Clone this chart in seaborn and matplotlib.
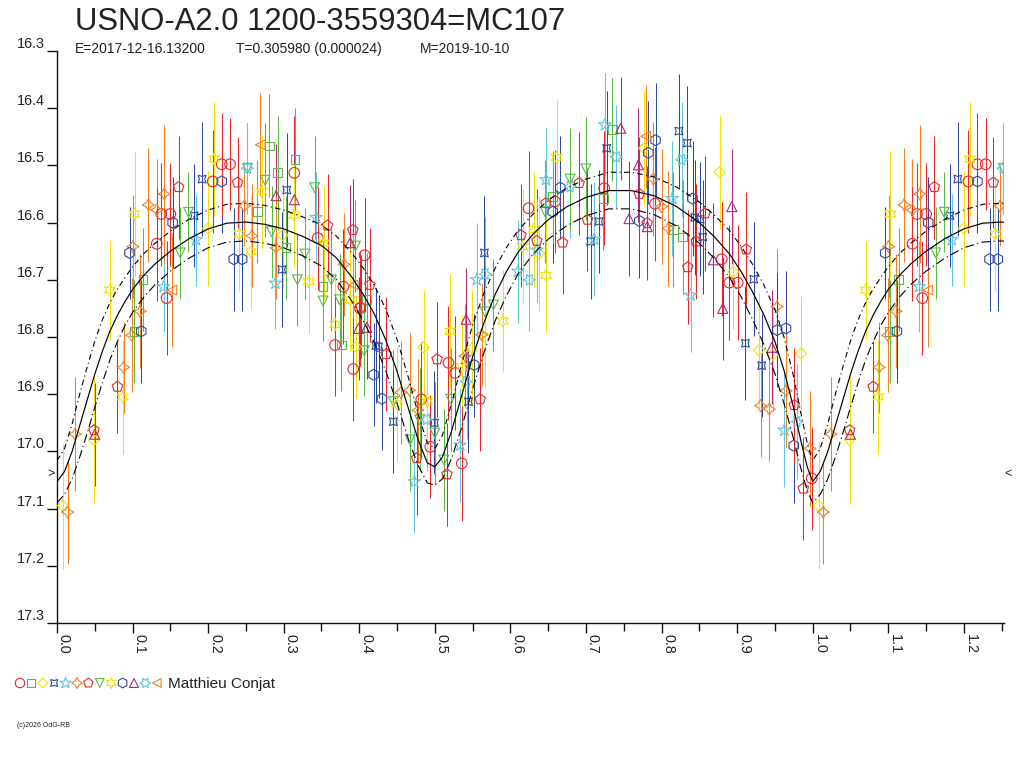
import numpy as np
import pandas as pd
import matplotlib
matplotlib.use("Agg")
import matplotlib.pyplot as plt
import seaborn as sns

# ---------------- text ----------------
TITLE = "USNO-A2.0 1200-3559304=MC107"
SUB_E = "E=2017-12-16.13200"
SUB_T = "T=0.305980 (0.000024)"
SUB_M = "M=2019-10-10"
OBSERVER = "Matthieu Conjat"
COPYRIGHT = "(c)2026 OdG-RB"

# ---------------- sessions (legend order) ----------------
session_colors = ["#e8262b", "#5bb946", "#f2e200", "#2f4b9f", "#5fc6dd", "#f28123",
                  "#e8262b", "#5bb946", "#f2e200", "#2f4b9f", "#b0287c", "#5fc6dd", "#f28123"]
session_markers = ["o", "s", "D", (4, 1, 45), "*", (4, 1, 0), "p", "v", (6, 1, 0), "h", "^", (6, 1, 30), "<"]
session_sizes = [58, 40, 32, 62, 88, 78, 62, 50, 78, 62, 52, 78, 48]

# ---------------- observations ----------------
phase = [0.008, 0.014, 0.024, 0.049, 0.050, 0.049, 0.070, 0.080, 0.087, 0.088,
         0.096, 0.099, 0.1005, 0.1027, 0.102, 0.110, 0.1115, 0.1137, 0.121, 0.132,
         0.132, 0.138, 0.141, 0.142, 0.145, 0.150, 0.152, 0.153, 0.161, 0.163,
         0.174, 0.1816, 0.184, 0.192, 0.200, 0.206, 0.208, 0.218, 0.218, 0.229,
         0.234, 0.239, 0.2415, 0.245, 0.248, 0.252, 0.252, 0.2566, 0.258, 0.265,
         0.269, 0.271, 0.2755, 0.281, 0.284, 0.290, 0.290, 0.289, 0.292, 0.2976,
         0.2985, 0.303, 0.304, 0.314, 0.315, 0.314, 0.314, 0.318, 0.328, 0.333,
         0.341, 0.343, 0.345, 0.352, 0.352, 0.353, 0.358, 0.363, 0.368, 0.368,
         0.374, 0.376, 0.379, 0.380, 0.388, 0.388, 0.3915, 0.392, 0.392, 0.395,
         0.396, 0.399, 0.401, 0.402, 0.4065, 0.407, 0.410, 0.410, 0.414, 0.419,
         0.422, 0.4255, 0.430, 0.4356, 0.445, 0.445, 0.4497, 0.455, 0.4665, 0.467,
         0.473, 0.476, 0.4775, 0.480, 0.482, 0.485, 0.489, 0.490, 0.494, 0.4995,
         0.500, 0.503, 0.512, 0.516, 0.518, 0.520, 0.521, 0.527, 0.5335, 0.5357,
         0.5357, 0.540, 0.5414, 0.542, 0.5445, 0.549, 0.552, 0.5555, 0.560, 0.562,
         0.5656, 0.5665, 0.5665, 0.5665, 0.5775, 0.590, 0.610, 0.614, 0.616, 0.624,
         0.625, 0.631, 0.635, 0.635, 0.638, 0.646, 0.647, 0.647, 0.647, 0.656,
         0.656, 0.659, 0.661, 0.666, 0.669, 0.679, 0.679, 0.691, 0.700, 0.702,
         0.706, 0.711, 0.717, 0.723, 0.724, 0.725, 0.7275, 0.735, 0.740, 0.746,
         0.757, 0.7694, 0.7706, 0.7706, 0.777, 0.779, 0.781, 0.781, 0.7825, 0.789,
         0.7914, 0.792, 0.800, 0.809, 0.8143, 0.8156, 0.823, 0.8267, 0.828, 0.834,
         0.8347, 0.8386, 0.841, 0.844, 0.846, 0.851, 0.8545, 0.8575, 0.8685, 0.877,
         0.8796, 0.881, 0.8897, 0.893, 0.895, 0.9008, 0.911, 0.912, 0.922, 0.929,
         0.931, 0.9325, 0.9426, 0.946, 0.947, 0.953, 0.953, 0.9625, 0.9647, 0.9647,
         0.975, 0.9757, 0.979, 0.9845, 0.9876, 0.9964, 0.9987]

mag = [17.095, 17.106, 16.970, 16.963, 16.970, 16.980, 16.718, 16.887, 16.905, 16.853,
       16.653, 16.797, 16.642, 16.585, 16.790, 16.755, 16.790, 16.700, 16.569, 16.578,
       16.637, 16.585, 16.712, 16.550, 16.732, 16.585, 16.718, 16.600, 16.538, 16.653,
       16.582, 16.588, 16.630, 16.524, 16.610, 16.528, 16.489, 16.528, 16.498, 16.498,
       16.664, 16.530, 16.620, 16.664, 16.571, 16.505, 16.505, 16.651, 16.623, 16.581,
       16.464, 16.546, 16.526, 16.466, 16.616, 16.553, 16.644, 16.706, 16.513, 16.682,
       16.622, 16.644, 16.543, 16.513, 16.490, 16.560, 16.587, 16.700, 16.655, 16.703,
       16.539, 16.591, 16.627, 16.712, 16.737, 16.636, 16.605, 16.700, 16.778, 16.814,
       16.735, 16.814, 16.712, 16.673, 16.635, 16.735, 16.613, 16.709, 16.856, 16.641,
       16.817, 16.785, 16.750, 16.747, 16.824, 16.657, 16.783, 16.734, 16.709, 16.866,
       16.815, 16.817, 16.908, 16.830, 16.913, 16.948, 16.917, 16.897, 16.893, 16.980,
       17.053, 17.012, 16.928, 16.945, 16.909, 16.818, 16.944, 16.912, 16.992, 16.950,
       16.968, 16.839, 17.015, 17.040, 16.845, 16.790, 16.909, 16.863, 16.989, 16.852,
       17.021, 16.833, 16.769, 16.878, 16.913, 16.820, 16.849, 16.700, 16.909, 16.796,
       16.653, 16.690, 16.756, 16.800, 16.744, 16.772, 16.685, 16.622, 16.642, 16.575,
       16.700, 16.612, 16.632, 16.648, 16.654, 16.581, 16.566, 16.525, 16.692, 16.581,
       16.555, 16.563, 16.486, 16.539, 16.635, 16.537, 16.524, 16.531, 16.506, 16.595,
       16.633, 16.629, 16.598, 16.558, 16.540, 16.429, 16.470, 16.437, 16.485, 16.435,
       16.593, 16.499, 16.597, 16.550, 16.470, 16.449, 16.601, 16.607, 16.478, 16.524,
       16.567, 16.456, 16.572, 16.610, 16.558, 16.612, 16.440, 16.490, 16.625, 16.461,
       16.678, 16.727, 16.558, 16.591, 16.633, 16.594, 16.625, 16.584, 16.665, 16.512,
       16.664, 16.750, 16.705, 16.572, 16.686, 16.705, 16.811, 16.647, 16.699, 16.823,
       16.920, 16.850, 16.926, 16.818, 16.831, 16.747, 16.788, 16.963, 16.785, 16.894,
       16.990, 16.919, 16.948, 16.829, 17.065, 16.995, 17.047]

err = [0.11, 0.09, 0.10, 0.09, 0.09, 0.11, 0.085, 0.08, 0.10, 0.08,
       0.08, 0.10, 0.09, 0.11, 0.09, 0.10, 0.09, 0.09, 0.10, 0.09,
       0.10, 0.09, 0.08, 0.12, 0.10, 0.09, 0.10, 0.08, 0.09, 0.08,
       0.07, 0.09, 0.08, 0.10, 0.10, 0.09, 0.10, 0.09, 0.09, 0.08,
       0.09, 0.08, 0.10, 0.09, 0.07, 0.08, 0.08, 0.10, 0.09, 0.09,
       0.09, 0.10, 0.10, 0.09, 0.08, 0.09, 0.09, 0.08, 0.10, 0.10,
       0.09, 0.09, 0.10, 0.10, 0.09, 0.09, 0.09, 0.08, 0.08, 0.09,
       0.09, 0.08, 0.09, 0.08, 0.07, 0.10, 0.09, 0.09, 0.09, 0.09,
       0.08, 0.08, 0.10, 0.09, 0.10, 0.09, 0.09, 0.09, 0.09, 0.08,
       0.09, 0.09, 0.10, 0.09, 0.08, 0.10, 0.09, 0.08, 0.10, 0.09,
       0.10, 0.09, 0.09, 0.10, 0.09, 0.09, 0.10, 0.09, 0.10, 0.09,
       0.09, 0.10, 0.09, 0.09, 0.10, 0.10, 0.09, 0.10, 0.09, 0.09,
       0.09, 0.10, 0.09, 0.09, 0.10, 0.10, 0.09, 0.10, 0.10, 0.09,
       0.10, 0.09, 0.09, 0.10, 0.09, 0.10, 0.09, 0.10, 0.09, 0.09,
       0.10, 0.10, 0.08, 0.09, 0.08, 0.09, 0.09, 0.09, 0.10, 0.10,
       0.09, 0.10, 0.09, 0.09, 0.10, 0.09, 0.09, 0.09, 0.10, 0.09,
       0.08, 0.09, 0.10, 0.09, 0.09, 0.09, 0.09, 0.09, 0.09, 0.09,
       0.10, 0.10, 0.09, 0.09, 0.10, 0.09, 0.10, 0.09, 0.09, 0.09,
       0.10, 0.10, 0.10, 0.10, 0.10, 0.09, 0.10, 0.09, 0.09, 0.10,
       0.10, 0.10, 0.10, 0.10, 0.10, 0.10, 0.10, 0.10, 0.10, 0.10,
       0.10, 0.10, 0.10, 0.10, 0.10, 0.10, 0.10, 0.10, 0.10, 0.10,
       0.10, 0.09, 0.10, 0.10, 0.10, 0.10, 0.10, 0.10, 0.10, 0.10,
       0.09, 0.09, 0.09, 0.10, 0.10, 0.10, 0.10, 0.10, 0.10, 0.10,
       0.10, 0.10, 0.10, 0.10, 0.09, 0.10, 0.09]

kind = [2, 5, 5, 6, 10, 2, 8, 6, 8, 5,
        9, 5, 5, 8, 1, 5, 9, 1, 5, 5,
        0, 0, 4, 5, 0, 0, 12, 9, 6, 7,
        7, 3, 4, 3, 2, 0, 8, 9, 0, 0,
        9, 6, 8, 9, 5, 7, 11, 8, 5, 1,
        12, 8, 7, 1, 7, 10, 5, 4, 1, 3,
        2, 1, 3, 0, 1, 10, 8, 7, 7, 8,
        7, 4, 0, 1, 7, 8, 6, 7, 8, 0,
        7, 1, 0, 5, 10, 8, 6, 12, 0, 7,
        2, 10, 0, 6, 7, 0, 10, 1, 6, 9,
        3, 3, 9, 6, 7, 3, 8, 5, 5, 7,
        4, 6, 5, 7, 0, 2, 11, 8, 0, 3,
        7, 6, 7, 6, 0, 8, 7, 0, 4, 8,
        0, 5, 10, 11, 3, 8, 9, 4, 6, 5,
        3, 11, 7, 2, 7, 8, 4, 6, 8, 0,
        11, 8, 6, 4, 2, 7, 6, 4, 8, 9,
        1, 0, 8, 9, 6, 11, 7, 6, 7, 6,
        3, 4, 3, 1, 0, 4, 3, 1, 11, 10,
        10, 10, 9, 6, 2, 12, 6, 10, 9, 5,
        0, 9, 5, 5, 4, 1, 3, 11, 1, 3,
        6, 4, 9, 3, 6, 3, 3, 6, 10, 2,
        0, 10, 0, 10, 2, 0, 3, 6, 3, 2,
        5, 3, 5, 10, 2, 5, 9, 4, 9, 5,
        9, 6, 11, 2, 6, 5, 0]

# ---------------- fitted light curve ----------------
fit_phase = [0.000, 0.010, 0.020, 0.030, 0.040, 0.050, 0.060, 0.070, 0.080, 0.090,
             0.100, 0.115, 0.130, 0.150, 0.175, 0.200, 0.225, 0.250, 0.275, 0.300,
             0.325, 0.350, 0.370, 0.390, 0.405, 0.420, 0.435, 0.450, 0.465, 0.478,
             0.490, 0.500, 0.510, 0.522, 0.535, 0.550, 0.565, 0.580, 0.595, 0.610,
             0.630, 0.650, 0.675, 0.700, 0.730, 0.760, 0.790, 0.820, 0.850, 0.870,
             0.890, 0.905, 0.920, 0.935, 0.950, 0.962, 0.974, 0.985, 0.993, 1.000]
fit_mag = [17.053, 17.035, 17.000, 16.955, 16.910, 16.865, 16.825, 16.790, 16.762, 16.738,
           16.717, 16.692, 16.672, 16.650, 16.628, 16.611, 16.601, 16.599, 16.603, 16.611,
           16.624, 16.640, 16.662, 16.695, 16.725, 16.760, 16.805, 16.860, 16.925, 16.980,
           17.020, 17.027, 17.010, 16.965, 16.905, 16.835, 16.775, 16.725, 16.685, 16.652,
           16.620, 16.595, 16.572, 16.556, 16.544, 16.544, 16.553, 16.572, 16.600, 16.625,
           16.655, 16.685, 16.720, 16.760, 16.808, 16.858, 16.920, 16.985, 17.028, 17.053]
fit_band = [0.037, 0.040, 0.048, 0.055, 0.058, 0.058, 0.055, 0.050, 0.046, 0.042,
            0.040, 0.038, 0.036, 0.035, 0.034, 0.033, 0.033, 0.033, 0.033, 0.033,
            0.034, 0.036, 0.038, 0.042, 0.046, 0.050, 0.054, 0.056, 0.054, 0.045,
            0.035, 0.032, 0.038, 0.048, 0.055, 0.056, 0.052, 0.046, 0.042, 0.038,
            0.035, 0.034, 0.033, 0.032, 0.032, 0.032, 0.033, 0.034, 0.036, 0.038,
            0.041, 0.044, 0.048, 0.052, 0.056, 0.058, 0.055, 0.048, 0.041, 0.037]
mark_level = 17.04

# ---------------- axes ticks ----------------
y_ticks = [16.3, 16.4, 16.5, 16.6, 16.7, 16.8, 16.9, 17.0, 17.1, 17.2, 17.3]
x_major = [0.0, 0.1, 0.2, 0.3, 0.4, 0.5, 0.6, 0.7, 0.8, 0.9, 1.0, 1.1, 1.2]
x_minor = [0.05, 0.15, 0.25, 0.35, 0.45, 0.55, 0.65, 0.75, 0.85, 0.95, 1.05, 1.15, 1.25]
X_MAX = 1.2525

# ---------------- style ----------------
sns.set_style("white")
plt.rcParams["font.family"] = ["Liberation Sans", "DejaVu Sans"]
TXT = "#222222"

df = pd.DataFrame({"phase": phase, "mag": mag, "err": err, "kind": kind})
rep = df[df["phase"] <= X_MAX - 1].copy()
rep["phase"] = rep["phase"] + 1.0
data = pd.concat([df, rep], ignore_index=True)

fp = list(fit_phase) + [p + 1.0 for p in fit_phase[1:] if p + 1.0 <= X_MAX + 0.03]
n_extra = len(fp) - len(fit_phase)
fm = np.array(list(fit_mag) + list(fit_mag[1:1 + n_extra]))
fb = np.array(list(fit_band) + list(fit_band[1:1 + n_extra]))

fig = plt.figure(figsize=(10.24, 7.68), dpi=100)
ax = fig.add_axes([57 / 1024, 1 - 623 / 768, (1003.5 - 57) / 1024, (623 - 51) / 768])

# error bars
ax.vlines(data["phase"], data["mag"] - data["err"], data["mag"] + data["err"],
          colors=[session_colors[k] for k in data["kind"]], linewidth=0.75, zorder=2)

# markers
for k in range(len(session_markers)):
    sub = data[data["kind"] == k]
    if sub.empty:
        continue
    sns.scatterplot(x=sub["phase"], y=sub["mag"], marker=session_markers[k],
                    s=session_sizes[k], ax=ax, zorder=3, legend=False)
    coll = ax.collections[-1]
    coll.set_facecolor("none")
    coll.set_edgecolor(session_colors[k])
    coll.set_linewidth(0.8)

# fitted curve and envelope
sns.lineplot(x=fp, y=fm, ax=ax, color="black", linewidth=0.85, sort=False, estimator=None, zorder=5)
ax.plot(fp, fm - fb, color="black", linewidth=0.8, linestyle=(0, (5, 3, 1, 3)), zorder=5)
ax.plot(fp, fm + fb, color="black", linewidth=0.8, linestyle=(0, (8, 3, 1, 3)), zorder=5)

ax.set_xlim(0, X_MAX)
ax.set_ylim(17.3, 16.3)
ax.set_xlabel("")
ax.set_ylabel("")
for s in ["top", "right"]:
    ax.spines[s].set_visible(False)
for s in ["left", "bottom"]:
    ax.spines[s].set_color("#111111")
    ax.spines[s].set_linewidth(1.0)

ax.set_yticks(y_ticks)
ax.set_yticklabels([f"{v:.1f}" for v in y_ticks])
ax.set_xticks(x_major)
ax.set_xticklabels([f"{v:.1f}" for v in x_major])
ax.set_xticks(x_minor, minor=True)
ax.tick_params(axis="y", which="major", direction="out", length=7.2, width=1.0,
               pad=1.5, labelsize=10.4, labelcolor=TXT, color="#111111", left=True)
ax.tick_params(axis="x", which="major", direction="out", length=7.2, width=1.0,
               pad=0.5, labelsize=10.4, labelcolor=TXT, color="#111111", bottom=True)
ax.tick_params(axis="x", which="minor", direction="out", length=6.0, width=1.0,
               color="#111111", bottom=True)
for t in ax.get_yticklabels():
    t.set_verticalalignment("bottom")
for t in ax.get_xticklabels():
    t.set_rotation(-90)
    t.set_horizontalalignment("left")
    t.set_verticalalignment("top")

# level marks
ax.annotate(">", xy=(0, mark_level), xycoords=("axes fraction", "data"), xytext=(-4, 0),
            textcoords="offset points", ha="center", va="center", fontsize=9, color=TXT,
            annotation_clip=False)
ax.annotate("<", xy=(1, mark_level), xycoords=("axes fraction", "data"), xytext=(3.5, 0),
            textcoords="offset points", ha="center", va="center", fontsize=9, color=TXT,
            annotation_clip=False)

# title and header
fig.text(75 / 1024, 1 - 30 / 768, TITLE, fontsize=22.3, color=TXT, ha="left", va="baseline")
fig.text(75 / 1024, 1 - 53 / 768, SUB_E, fontsize=10, color=TXT, ha="left", va="baseline")
fig.text(236 / 1024, 1 - 53 / 768, SUB_T, fontsize=10, color=TXT, ha="left", va="baseline")
fig.text(420 / 1024, 1 - 53 / 768, SUB_M, fontsize=10, color=TXT, ha="left", va="baseline")

# legend row (pixel-coordinate overlay)
lax = fig.add_axes([0, 0, 1, 1])
lax.set_xlim(0, 1024)
lax.set_ylim(768, 0)
lax.axis("off")
lax.patch.set_alpha(0)
for k in range(len(session_markers)):
    lax.scatter([20 + 11.4 * k], [683], marker=session_markers[k], s=session_sizes[k] * 0.8,
                facecolor="none", edgecolor=session_colors[k], linewidth=0.8)
lax.text(168, 688, OBSERVER, fontsize=11, color=TXT, ha="left", va="baseline")
lax.text(17, 727, COPYRIGHT, fontsize=5, color=TXT, ha="left", va="baseline")

fig.savefig("out.png", dpi=100)
